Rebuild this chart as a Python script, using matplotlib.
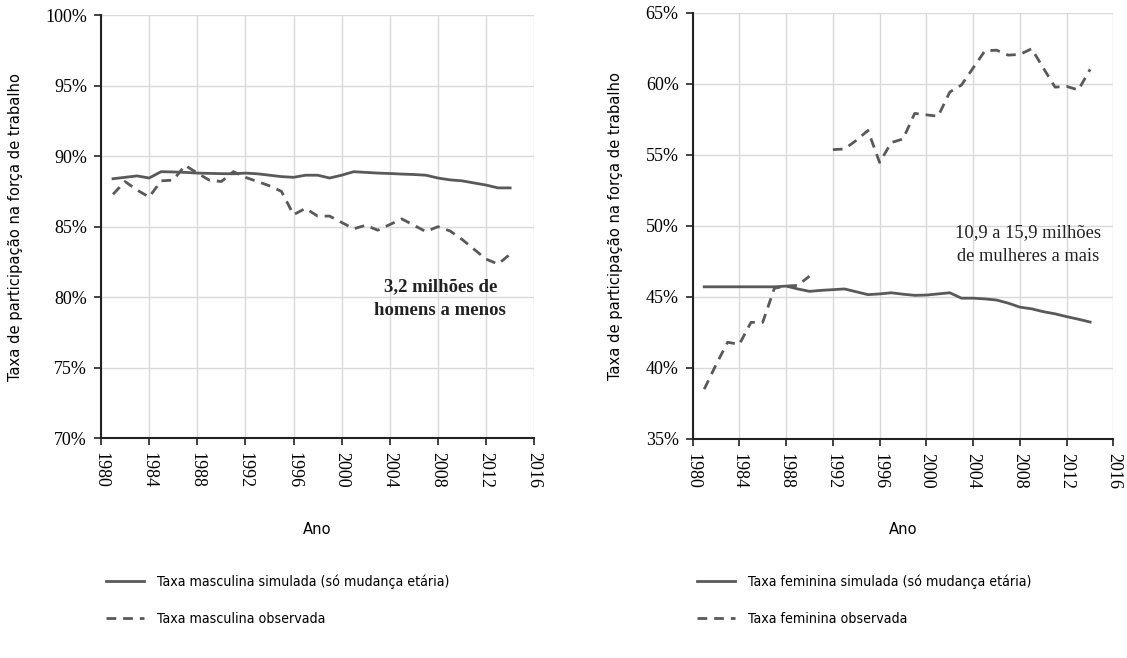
import matplotlib.pyplot as plt
from matplotlib import font_manager

# Dados (taxa de participação, %)
anos = list(range(1981, 2015))

masc_simulada = [88.4, 88.5, 88.6, 88.45, 88.9, 88.88, 88.85, 88.8, 88.78, 88.76,
                 88.75, 88.8, 88.75, 88.65, 88.55, 88.5, 88.65, 88.65, 88.45, 88.65,
                 88.9, 88.85, 88.8, 88.77, 88.73, 88.7, 88.65, 88.45, 88.32, 88.25,
                 88.1, 87.95, 87.75, 87.75]
masc_observada = [87.3, 88.2, 87.6, 87.1, 88.25, 88.3, 89.35, 88.8, 88.3, 88.2,
                  88.9, 88.5, 88.2, 87.9, 87.5, 85.85, 86.3, 85.75, 85.75, 85.3,
                  84.85, 85.1, 84.75, 85.15, 85.55, 85.1, 84.65, 85.0, 84.7, 84.1,
                  83.4, 82.7, 82.35, 83.05]

fem_simulada = [45.7, 45.7, 45.7, 45.7, 45.7, 45.7, 45.7, 45.75, 45.55, 45.38,
                45.45, 45.5, 45.55, 45.35, 45.15, 45.2, 45.28, 45.18, 45.1, 45.12,
                45.2, 45.28, 44.9, 44.9, 44.85, 44.77, 44.55, 44.27, 44.15, 43.95,
                43.8, 43.6, 43.42, 43.22]
anos_fem_obs1 = list(range(1981, 1991))
fem_observada1 = [38.5, 40.2, 41.8, 41.65, 43.2, 43.2, 45.6, 45.75, 45.8, 46.45]
anos_fem_obs2 = list(range(1992, 2015))
fem_observada2 = [55.35, 55.4, 56.0, 56.7, 54.45, 55.85, 56.1, 57.9, 57.8, 57.7,
                  59.4, 59.9, 61.1, 62.3, 62.35, 62.0, 62.05, 62.45, 61.1, 59.75,
                  59.8, 59.55, 61.0]

x_ticks = list(range(1980, 2017, 4))

# fonte estreita para rótulos e legenda
cond_lab = font_manager.FontProperties(family='DejaVu Sans', stretch='condensed', size=11.8)
cond_leg = font_manager.FontProperties(family='DejaVu Sans', stretch='condensed', size=10.2)
serif = 'Liberation Serif'

cor = '#595959'
grid_cor = '#d9d9d9'

fig = plt.figure(figsize=(11.27, 6.58), dpi=100)
ax1 = fig.add_axes([0.0896, 0.334, 0.3844, 0.643])
ax2 = fig.add_axes([0.6145, 0.333, 0.3735, 0.648])


def estilo(ax, ylim, yticks):
    ax.set_xlim(1980, 2016)
    ax.set_ylim(*ylim)
    ax.set_xticks(x_ticks)
    ax.set_xticklabels([str(t) for t in x_ticks], rotation=270,
                       fontfamily=serif, fontsize=13)
    ax.set_yticks(yticks)
    ax.set_yticklabels([f'{t}%' for t in yticks], fontfamily=serif, fontsize=13)
    ax.grid(True, color=grid_cor, linewidth=1)
    ax.set_axisbelow(True)
    for s in ['top', 'right']:
        ax.spines[s].set_visible(False)
    for s in ['left', 'bottom']:
        ax.spines[s].set_color('#222222')
        ax.spines[s].set_linewidth(1.5)
    ax.tick_params(direction='out', length=5, width=1.2, color='#222222', pad=5)
    ax.set_ylabel('Taxa de participação na força de trabalho', fontproperties=cond_lab,
                  labelpad=16)
    ax.set_xlabel('Ano', fontproperties=cond_lab, labelpad=24)


estilo(ax1, (70, 100), list(range(70, 101, 5)))
estilo(ax2, (35, 65), list(range(35, 66, 5)))

l1, = ax1.plot(anos, masc_simulada, color=cor, lw=2,
               label='Taxa masculina simulada (só mudança etária)')
l2, = ax1.plot(anos, masc_observada, color=cor, lw=2, ls=(0, (3.5, 2.5)),
               label='Taxa masculina observada')
ax1.text(2008.2, 79.9, '3,2 milhões de\nhomens a menos', ha='center', va='center',
         fontfamily=serif, fontweight='bold', fontsize=13.5, linespacing=1.55,
         color='#222222')

l3, = ax2.plot(anos, fem_simulada, color=cor, lw=2,
               label='Taxa feminina simulada (só mudança etária)')
l4, = ax2.plot(anos_fem_obs1, fem_observada1, color=cor, lw=2, ls=(0, (3.5, 2.5)),
               label='Taxa feminina observada')
ax2.plot(anos_fem_obs2, fem_observada2, color=cor, lw=2, ls=(0, (3.5, 2.5)))
ax2.text(2008.7, 48.65, '10,9 a 15,9 milhões\nde mulheres a mais', ha='center',
         va='center', fontfamily=serif, fontsize=13.3, linespacing=1.55,
         color='#222222')

leg_kw = dict(loc='upper left', bbox_transform=fig.transFigure, frameon=False,
              prop=cond_leg, handlelength=2.7, handletextpad=0.9, labelspacing=1.6,
              borderaxespad=0)
ax1.legend(handles=[l1, l2], bbox_to_anchor=(0.089, 0.135), **leg_kw)
ax2.legend(handles=[l3, l4], bbox_to_anchor=(0.613, 0.135), **leg_kw)

fig.savefig('out.png', dpi=100)
